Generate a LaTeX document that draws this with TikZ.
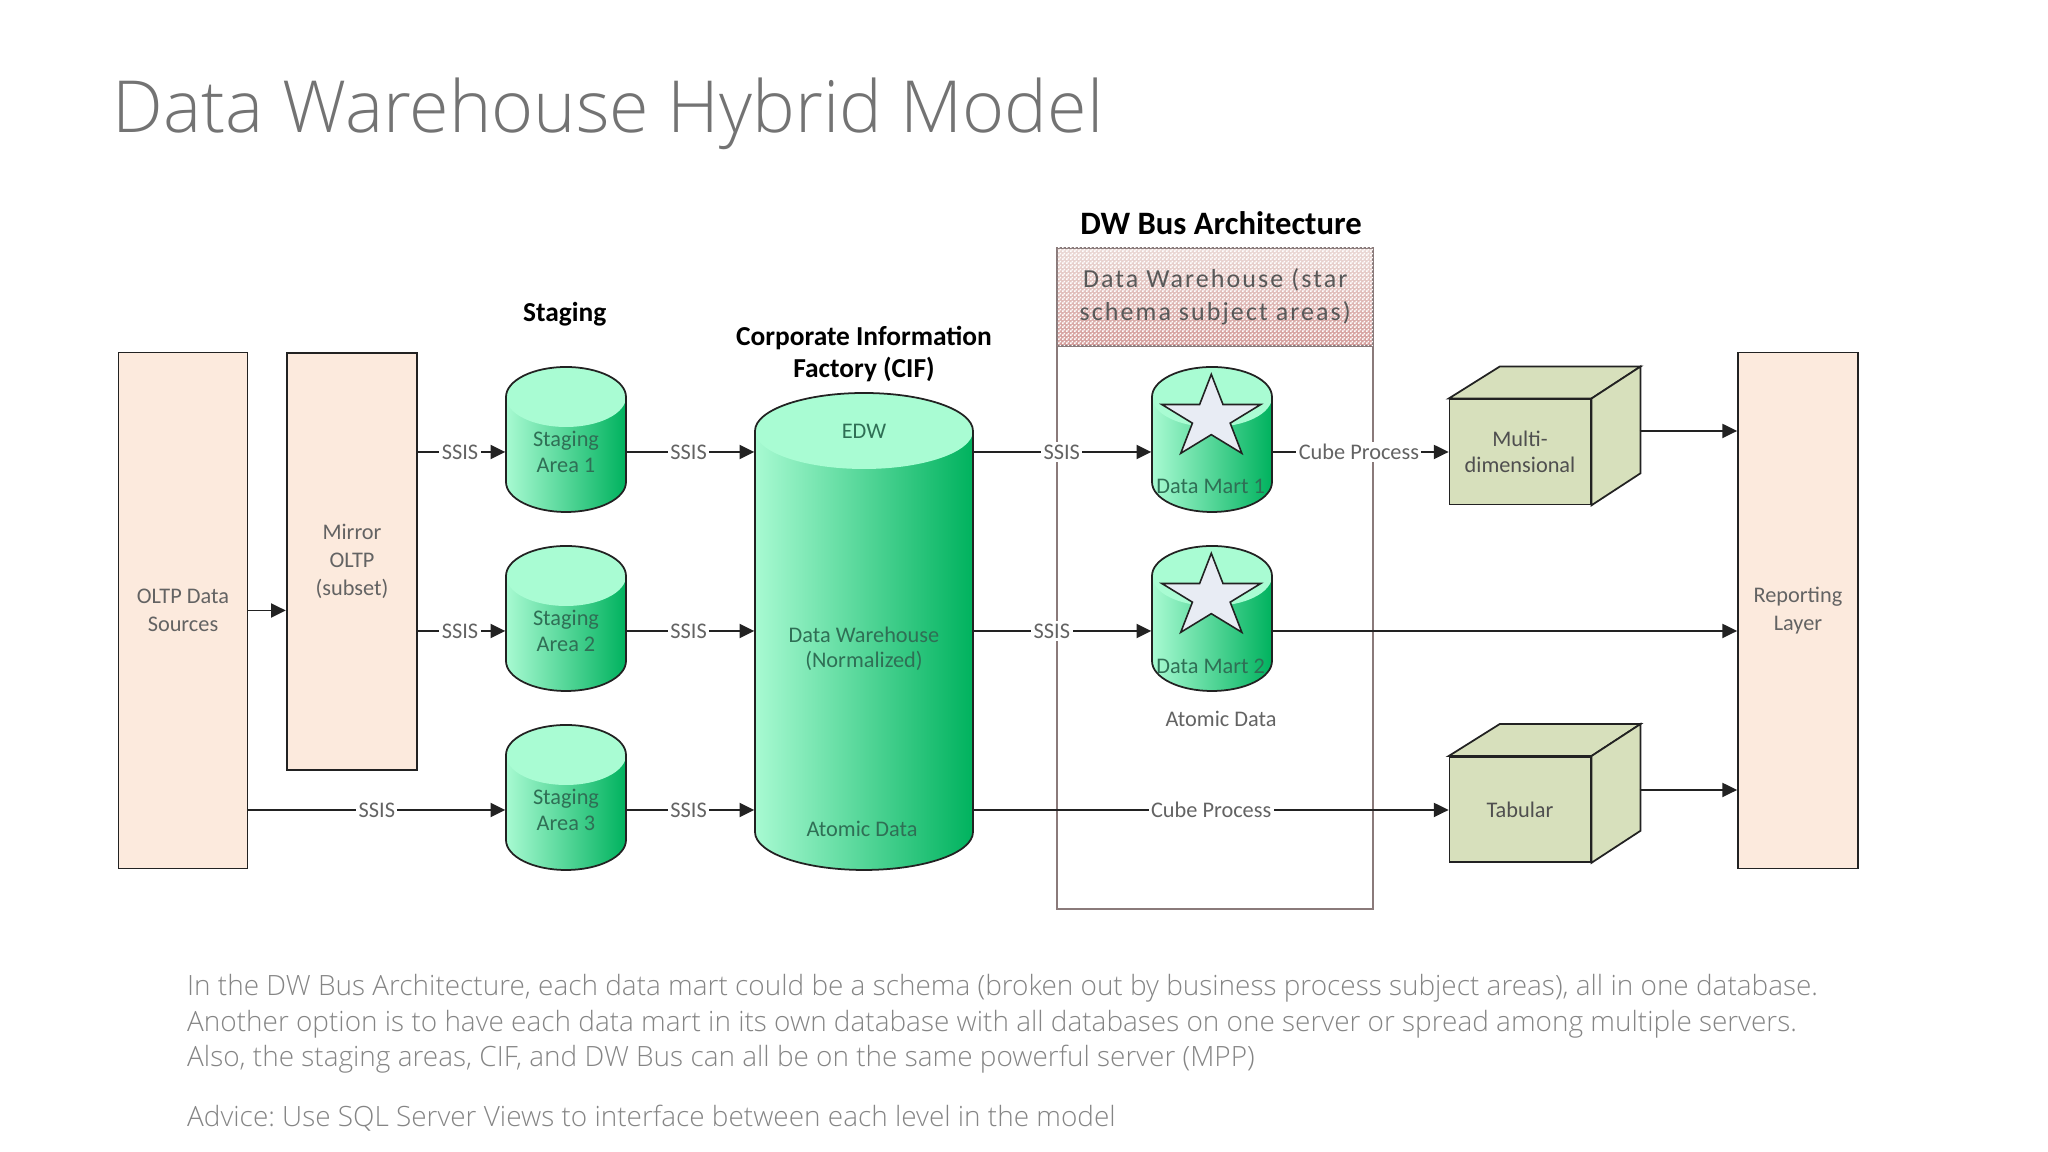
\documentclass[tikz,border=0pt]{standalone}
\usepackage{fontspec}
\setmainfont{Carlito}
\newfontfamily\lightfont{Open Sans Light}
\usetikzlibrary{arrows.meta, shapes.geometric, patterns, calc}

\definecolor{boxfill}{HTML}{FCEADD}
\definecolor{cylleft}{HTML}{A8FAD2}
\definecolor{cylright}{HTML}{00B25E}
\definecolor{cyltop}{HTML}{A9FCD3}
\definecolor{cubefill}{HTML}{D7E0BC}
\definecolor{starfill}{HTML}{E8ECF4}
\definecolor{linecol}{HTML}{222222}
\definecolor{labelcol}{HTML}{636363}
\definecolor{cyltext}{HTML}{2F6F55}
\definecolor{buscol}{HTML}{8A7A7A}
\definecolor{hdrtop}{HTML}{EBDAD6}
\definecolor{hdrbottom}{HTML}{D49C9A}

\pgfdeclarepatternformonly{dither}{\pgfpointorigin}{\pgfqpoint{1pt}{1pt}}{\pgfqpoint{1pt}{1pt}}{
 \pgfpathrectangle{\pgfqpoint{0pt}{0pt}}{\pgfqpoint{0.5pt}{0.5pt}}
 \pgfpathrectangle{\pgfqpoint{0.5pt}{0.5pt}}{\pgfqpoint{0.5pt}{0.5pt}}
 \pgfusepath{fill}
}

% x, bottom y, width, height, end radius
\newcommand{\dbcyl}[5]{
 \begin{scope}[shift={(#1,#2)}]
  \pgfmathsetmacro\rx{#3/2}
  \pgfmathsetmacro\hh{#4-#5}
  \path [left color=cylleft, right color=cylright] (-\rx,#5) arc [start angle=180, end angle=360, x radius=\rx, y radius=#5] -- (\rx,\hh) arc [start angle=0, end angle=180, x radius=\rx, y radius=#5] -- cycle;
  \fill [cyltop] (0,\hh) ellipse (\rx cm and #5 cm);
  \draw [linecol, line width=0.5pt] (-\rx,#5) arc [start angle=180, end angle=360, x radius=\rx, y radius=#5] -- (\rx,\hh) arc [start angle=0, end angle=180, x radius=\rx, y radius=#5] -- cycle;
 \end{scope}
}

% top and side of a cube, from its front face
\newcommand{\cubefaces}[1]{
 \draw [face] (#1.north west) -- ++(0.51,0.32) -- ($ (#1.north east) + (0.49,0.32) $) -- (#1.north east) -- cycle;
 \draw [face] (#1.north east) -- ++(0.49,0.32) -- ($ (#1.south east) + (0.49,0.32) $) -- (#1.south east) -- cycle;
}

\begin{document}
\begin{tikzpicture}
 \tikzstyle{face}=[draw=linecol, fill=cubefill, line width=0.5pt]
 \tikzstyle{tallbox}=[rectangle, draw=linecol, fill=boxfill, line width=0.5pt, align=center, text=labelcol, font=\fontsize{6.35}{7.9}\selectfont]
 \tikzstyle{frontface}=[face, rectangle, minimum width=1.41cm, minimum height=1.05cm, align=center, text=labelcol!80!black, font=\fontsize{6.35}{7.4}\selectfont]
 \tikzstyle{cyllabel}=[minimum width=1.20cm, align=center, inner sep=0pt, text=cyltext, font=\fontsize{6.35}{7.2}\selectfont]
 \tikzstyle{lbl}=[fill=white, inner sep=0.7pt, text=labelcol, font=\fontsize{6.35}{7.2}\selectfont]
 \tikzstyle{heading}=[align=center, text=black, font=\fontsize{7.8}{9.3}\selectfont\bfseries]
 \tikzstyle{martstar}=[yscale=0.84, transform shape, star, star points=5, star point ratio=2.618, draw=linecol, fill=starfill, line width=0.45pt, minimum size=1.04cm, inner sep=0pt]
 \tikzstyle{arr}=[-{Triangle[length=4.2pt, width=4pt]}, draw=linecol, line width=0.55pt]
 \tikzstyle{slidetext}=[anchor=base west, align=left, inner sep=0pt, text=black!48, font=\lightfont\fontsize{7.95}{10.2}\selectfont\frenchspacing]

 \useasboundingbox (0,0) rectangle (20.48,11.52);

 \node (ntitle) at (1.12,10.19) [anchor=base west, inner sep=0pt, text=black!55, font=\lightfont\fontsize{20.45}{24}\selectfont] {Data Warehouse Hybrid Model};

 % Headings
 \node (nstaging) at (5.647,8.38) [heading] {Staging};
 \node (ncifhead) at (8.64,7.98) [heading] {Corporate Information\\Factory (CIF)};
 \node (nbushead) at (12.21,9.287) [heading, font=\fontsize{9.3}{11}\selectfont\bfseries] {DW Bus Architecture};

 % Bus frame
 \node (nbus) at (12.152,5.734) [rectangle, draw=buscol, line width=0.45pt, minimum width=3.16cm, minimum height=6.61cm] {};
 \node (nbushdr) at (12.152,8.55) [rectangle, draw=buscol, line width=0.45pt, top color=hdrtop, bottom color=hdrbottom, postaction={pattern=dither, pattern color=white}, minimum width=3.16cm, minimum height=0.98cm, yshift=0pt, align=center, text=black!65, font=\fontsize{7.4}{9.3}\selectfont\addfontfeatures{LetterSpace=8}] {\raisebox{-0.5pt}{Data Warehouse (star}\\\raisebox{-0.5pt}{schema subject areas)}};

 % Main boxes
 \node (noltp) at (1.83,5.415) [tallbox, minimum width=1.29cm, minimum height=5.16cm] {OLTP Data\\Sources};
 \node (nmirror) at (3.52,5.908) [tallbox, minimum width=1.306cm, minimum height=4.17cm] {Mirror\\OLTP\\(subset)};
 \node (nreport) at (17.98,5.415) [tallbox, minimum width=1.20cm, minimum height=5.16cm] {Reporting\\Layer};

 % Staging areas
 \dbcyl{5.66}{6.40}{1.20}{1.45}{0.3}
 \dbcyl{5.66}{4.61}{1.20}{1.45}{0.3}
 \dbcyl{5.66}{2.82}{1.20}{1.45}{0.3}
 \node (nstage1) at (5.66,7.00) [cyllabel] {Staging\\Area 1};
 \node (nstage2) at (5.66,5.21) [cyllabel] {Staging\\Area 2};
 \node (nstage3) at (5.66,3.42) [cyllabel] {Staging\\Area 3};

 % Corporate information factory
 \dbcyl{8.64}{2.82}{2.18}{4.77}{0.38}
 \node (ncif) at (8.64,5.03) [cyllabel, minimum width=2.18cm] {Data Warehouse\\(Normalized)};
 \node (nedw) at (8.64,7.21) [cyllabel] {EDW};
 \node (natomic) at (8.62,3.227) [cyllabel] {Atomic Data};

 % Data marts
 \dbcyl{12.12}{6.40}{1.20}{1.45}{0.3}
 \dbcyl{12.12}{4.61}{1.20}{1.45}{0.3}
 \node (nstar1) at (12.113,7.34) [martstar] {};
 \node (nstar2) at (12.113,5.55) [martstar] {};
 \node (nmart1) at (12.12,7.00) [minimum width=1.20cm, minimum height=0.2cm, inner sep=0pt] {};
 \node (nmart2) at (12.12,5.21) [minimum width=1.20cm, minimum height=0.2cm, inner sep=0pt] {};
 \node (nmart1text) at (12.107,6.66) [cyllabel] {Data Mart 1};
 \node (nmart2text) at (12.107,4.86) [cyllabel] {Data Mart 2};
 \node (nmartatomic) at (12.21,4.33) [lbl, fill=none] {Atomic Data};

 % Cubes
 \node (ncube1) at (15.20,7.00) [frontface] {Multi-\\dimensional};
 \node (ncube2) at (15.20,3.425) [frontface] {Tabular};
 \cubefaces{ncube1}
 \cubefaces{ncube2}
 \coordinate (ncube1out) at (16.395,7.21);
 \coordinate (ncube2out) at (16.395,3.62);

 % Sources to staging
 \draw [arr] (noltp.east) -- (noltp.east -| nmirror.west);
 \draw [arr] (nmirror.east |- nstage1.west) -- node [lbl, pos=0.48] {SSIS} (nstage1.west);
 \draw [arr] (nmirror.east |- nstage2.west) -- node [lbl, pos=0.48] {SSIS} (nstage2.west);
 \draw [arr] (noltp.east |- nstage3.west) -- node [lbl, pos=0.50] {SSIS} (nstage3.west);

 % Staging to warehouse
 \draw [arr] (nstage1.east) -- node [lbl, pos=0.485] {SSIS} (nstage1.east -| ncif.west);
 \draw [arr] (nstage2.east) -- node [lbl, pos=0.485] {SSIS} (nstage2.east -| ncif.west);
 \draw [arr] (nstage3.east) -- node [lbl, pos=0.485] {SSIS} (nstage3.east -| ncif.west);

 % Warehouse to marts and cubes
 \draw [arr] (nstage1.east -| ncif.east) -- node [lbl, pos=0.496] {SSIS} (nmart1.west);
 \draw [arr] (nstage2.east -| ncif.east) -- node [lbl, pos=0.44] {SSIS} (nmart2.west);
 \draw [arr] (nmart1.east) -- node [lbl, pos=0.49] {Cube Process} (ncube1.west |- nmart1.east);
 \draw [arr] (nstage3.east -| ncif.east) -- node [lbl, pos=0.50] {Cube Process} (nstage3.east -| ncube2.west);

 % Reporting layer
 \draw [arr] (ncube1out) -- (ncube1out -| nreport.west);
 \draw [arr] (nmart2.east) -- (nmart2.east -| nreport.west);
 \draw [arr] (ncube2out) -- (ncube2out -| nreport.west);

 % Notes
 \node (nnotes) at (1.865,0.85) [slidetext] {In the DW Bus Architecture, each data mart could be a schema (broken out by business process subject areas), all in one database.\\Another option is to have each data mart in its own database with all databases on one server or spread among multiple servers.\\Also, the staging areas, CIF, and DW Bus can all be on the same powerful server (MPP)};
 \node (nadvice) at (1.865,0.25) [slidetext] {Advice: Use SQL Server Views to interface between each level in the model};
\end{tikzpicture}
\end{document}
